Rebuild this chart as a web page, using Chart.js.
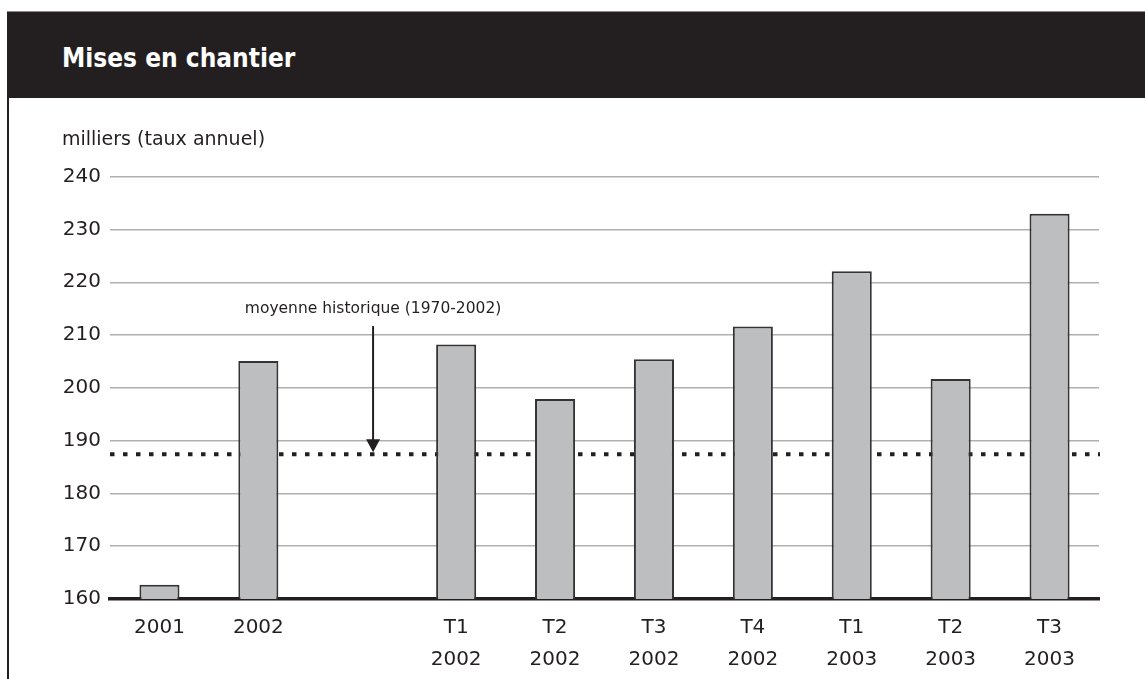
<!DOCTYPE html>
<html><head><meta charset="utf-8">
<script src="https://cdn.jsdelivr.net/npm/chart.js@4.4.1/dist/chart.umd.min.js"></script>
<style>
html,body{margin:0;padding:0;background:#fff;width:1145px;height:679px;overflow:hidden;position:relative;}
#hdr{position:absolute;left:7px;top:11px;width:1138px;height:87px;background:#231f20;border-top:1px solid #8a8a8a;box-sizing:border-box;}
#hdr span{position:absolute;left:55px;top:33px;line-height:26px;font-family:"DejaVu Sans Condensed","DejaVu Sans",sans-serif;font-stretch:condensed;font-weight:bold;font-size:26px;color:#fff;white-space:nowrap;}
#lborder{position:absolute;left:7px;top:98px;width:2px;height:581px;background:#231f20;}
#c{position:absolute;left:0;top:98px;}
</style></head>
<body>
<div id="hdr"><span>Mises en chantier</span></div>
<div id="lborder"></div>
<canvas id="c" width="1145" height="581"></canvas>
<script>
// ---- data ----
const periods = ['2001', '2002', '', 'T1', 'T2', 'T3', 'T4', 'T1', 'T2', 'T3'];
const periodYears = ['', '', '', '2002', '2002', '2002', '2002', '2003', '2003', '2003'];
const housingStarts = [162.7, 205.1, null, 208.2, 197.9, 205.4, 211.6, 222.1, 201.7, 233.0];
const yTicks = [160, 170, 180, 190, 200, 210, 220, 230, 240];
const historicalAverage = 187.4;
const averageLabel = 'moyenne historique (1970-2002)';
const unitLabel = 'milliers (taux annuel)';

const labels = periods.map((p, i) => periodYears[i] ? [p, periodYears[i]] : p);

// annotation placement (in scale units)
const ANNOT_X = 2.16;
const ANNOT_TEXT_Y = 214.9;
const ANNOT_ARROW_TOP = 211.7;

const DARK = '#231f20';
const FONT = '"DejaVu Sans", sans-serif';

const averagePlugin = {
  id: 'average',
  beforeDatasetsDraw(chart) {
    const {ctx, chartArea: a, scales: {y}} = chart;
    const py = y.getPixelForValue(historicalAverage);
    ctx.save();
    ctx.strokeStyle = DARK;
    ctx.lineWidth = 4;
    ctx.setLineDash([4.5, 8.5]);
    ctx.beginPath();
    ctx.moveTo(a.left, py);
    ctx.lineTo(a.right + 1, py);
    ctx.stroke();
    ctx.restore();
  },
  afterDatasetsDraw(chart) {
    const {ctx, scales: {x, y}} = chart;
    const px = x.getPixelForValue(ANNOT_X);
    const tip = y.getPixelForValue(historicalAverage) - 2;
    const top = y.getPixelForValue(ANNOT_ARROW_TOP);
    ctx.save();
    ctx.strokeStyle = DARK;
    ctx.fillStyle = DARK;
    ctx.lineWidth = 2;
    ctx.beginPath();
    ctx.moveTo(px, top);
    ctx.lineTo(px, tip - 10);
    ctx.stroke();
    ctx.beginPath();
    ctx.moveTo(px - 7, tip - 13);
    ctx.lineTo(px + 7, tip - 13);
    ctx.lineTo(px, tip);
    ctx.closePath();
    ctx.fill();
    ctx.font = '15.5px ' + FONT;
    ctx.textAlign = 'center';
    ctx.textBaseline = 'middle';
    ctx.fillText(averageLabel, px, y.getPixelForValue(ANNOT_TEXT_Y));
    ctx.restore();
  }
};

new Chart(document.getElementById('c'), {
  type: 'bar',
  data: {
    labels: labels,
    datasets: [{
      data: housingStarts,
      backgroundColor: '#bdbec0',
      borderColor: '#333333',
      borderWidth: 2,
      borderSkipped: 'bottom',
      barPercentage: 0.405,
      categoryPercentage: 1.0
    }]
  },
  options: {
    responsive: false,
    animation: false,
    devicePixelRatio: 1,
    events: [],
    layout: {padding: {left: 62, right: 46, top: 0, bottom: 3}},
    plugins: {
      legend: {display: false},
      tooltip: {enabled: false},
      title: {
        display: true,
        text: unitLabel,
        align: 'start',
        color: DARK,
        font: {family: FONT, size: 19, weight: 'normal', lineHeight: 1.2},
        padding: {top: 30.6, bottom: 25.3}
      }
    },
    scales: {
      x: {
        offset: true,
        grid: {display: true, color: 'rgba(0,0,0,0)', drawTicks: false},
        border: {display: true, color: DARK, width: 3.5},
        ticks: {color: DARK, padding: 13, font: {family: FONT, size: 20, lineHeight: 1.6}, maxRotation: 0, autoSkip: false},
        afterFit: s => { s.height = 77; }
      },
      y: {
        min: yTicks[0],
        max: yTicks[yTicks.length - 1],
        afterBuildTicks: s => { s.ticks = yTicks.map(v => ({value: v})); },
        grid: {color: '#b0b0b0', lineWidth: 1.5, drawTicks: false},
        border: {display: false},
        ticks: {color: DARK, padding: 9, font: {family: FONT, size: 20}},
        afterFit: s => { s.width = 48; }
      }
    }
  },
  plugins: [averagePlugin]
});
</script>
</body></html>
